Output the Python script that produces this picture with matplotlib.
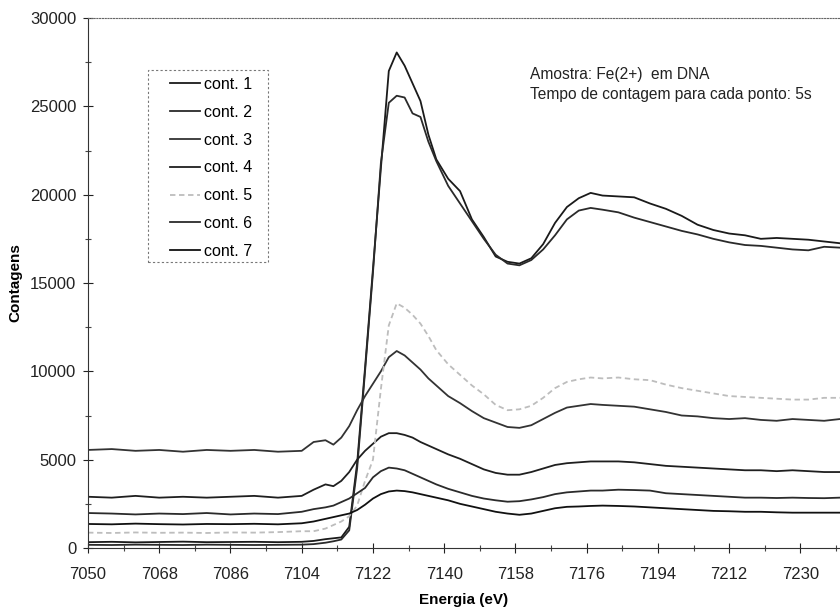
import matplotlib
matplotlib.use("Agg")
import matplotlib.pyplot as plt
from matplotlib.patches import Rectangle
from matplotlib.ticker import FixedLocator, MultipleLocator

plt.rcParams["font.family"] = ["Liberation Sans", "DejaVu Sans"]

# energia (eV)
energia = [7050, 7056, 7062, 7068, 7074, 7080, 7086, 7092, 7098, 7104,
           7107, 7110, 7112, 7114, 7116, 7118, 7120, 7122, 7124, 7126,
           7128, 7130, 7132, 7134, 7136, 7138, 7141, 7144, 7147, 7150,
           7153, 7156, 7159, 7162, 7165, 7168, 7171, 7174, 7177, 7180,
           7184, 7188, 7192, 7196, 7200, 7204, 7208, 7212, 7216, 7220,
           7224, 7228, 7232, 7236, 7240]

cont1 = [330, 350, 320, 340, 360, 330, 340, 350, 330, 350,
         400, 500, 550, 600, 1200, 4800, 10200, 15800, 21500, 27000,
         28050, 27300, 26300, 25300, 23400, 22000, 20900, 20200, 18600, 17600,
         16500, 16200, 16100, 16400, 17200, 18400, 19300, 19800, 20100, 19950,
         19900, 19850, 19500, 19200, 18800, 18300, 18000, 17800, 17700, 17500,
         17550, 17500, 17450, 17350, 17250]
cont2 = [180, 170, 190, 180, 170, 190, 180, 170, 180, 190,
         220, 300, 380, 480, 1000, 4500, 10000, 15600, 21800, 25200,
         25600, 25500, 24600, 24400, 23000, 21900, 20500, 19500, 18500, 17500,
         16600, 16100, 16000, 16300, 16900, 17700, 18600, 19100, 19250, 19150,
         19000, 18700, 18450, 18200, 17950, 17750, 17500, 17300, 17150, 17100,
         17000, 16900, 16850, 17050, 17000]
cont3 = [5550, 5600, 5500, 5550, 5450, 5550, 5500, 5550, 5450, 5500,
         6000, 6100, 5850, 6250, 6900, 7800, 8600, 9300, 10000, 10800,
         11150, 10900, 10500, 10100, 9600, 9200, 8600, 8200, 7750, 7350,
         7100, 6850, 6800, 6950, 7300, 7650, 7950, 8050, 8150, 8100,
         8050, 8000, 7850, 7700, 7500, 7450, 7350, 7300, 7350, 7250,
         7200, 7300, 7250, 7200, 7300]
cont4 = [2900, 2850, 2950, 2850, 2900, 2850, 2900, 2950, 2850, 2950,
         3300, 3600, 3500, 3800, 4300, 5000, 5500, 5900, 6300, 6500,
         6500, 6400, 6250, 6000, 5800, 5600, 5300, 5050, 4750, 4450,
         4250, 4150, 4150, 4300, 4500, 4700, 4800, 4850, 4900, 4900,
         4900, 4850, 4750, 4650, 4600, 4550, 4500, 4450, 4400, 4400,
         4350, 4400, 4350, 4300, 4300]
cont5 = [870, 850, 880, 860, 870, 850, 880, 870, 900, 950,
         950, 1100, 1300, 1500, 1800, 2400, 3800, 5000, 9000, 12600,
         13850, 13600, 13200, 12700, 12000, 11200, 10400, 9800, 9200, 8700,
         8100, 7800, 7850, 8050, 8500, 9050, 9400, 9550, 9650, 9600,
         9650, 9550, 9500, 9250, 9050, 8900, 8750, 8600, 8550, 8500,
         8450, 8400, 8400, 8500, 8500]
cont6 = [1980, 1950, 1900, 1950, 1920, 1980, 1900, 1950, 1920, 2050,
         2200, 2300, 2400, 2600, 2800, 3100, 3400, 4000, 4350, 4550,
         4500, 4400, 4200, 4000, 3800, 3600, 3350, 3150, 2950, 2800,
         2700, 2620, 2650, 2750, 2880, 3050, 3150, 3200, 3250, 3250,
         3300, 3280, 3250, 3100, 3050, 3000, 2950, 2900, 2850, 2850,
         2830, 2850, 2830, 2820, 2850]
cont7 = [1360, 1340, 1380, 1350, 1330, 1360, 1350, 1370, 1340, 1400,
         1500, 1650, 1750, 1850, 1950, 2150, 2450, 2800, 3050, 3200,
         3250, 3220, 3150, 3050, 2950, 2850, 2700, 2500, 2350, 2200,
         2050, 1950, 1880, 1950, 2100, 2250, 2330, 2350, 2380, 2400,
         2380, 2350, 2300, 2250, 2200, 2150, 2100, 2080, 2050, 2050,
         2020, 2000, 2000, 2000, 2000]

series = [cont1, cont2, cont3, cont4, cont5, cont6, cont7]
nomes = ["cont. 1", "cont. 2", "cont. 3", "cont. 4", "cont. 5", "cont. 6", "cont. 7"]
cores = ["#1a1a1a", "#2a2a2a", "#333333", "#1f1f1f", "#bdbdbd", "#2b2b2b", "#111111"]
estilos = ["-", "-", "-", "-", (0, (3, 2)), "-", "-"]
xticks = list(range(7050, 7241, 18))

W, H = 840, 615
fig = plt.figure(figsize=(8.4, 6.15), dpi=100)
ax = fig.add_axes([88 / W, 67 / H, 752 / W, 530 / H])

for y, nome, cor, ls in zip(series, nomes, cores, estilos):
    ax.plot(energia, y, color=cor, linestyle=ls, linewidth=1.3, label=nome)

ax.set_xlim(7050, 7240)
ax.set_ylim(0, 30000)
ax.xaxis.set_major_locator(FixedLocator(xticks))
ax.xaxis.set_minor_locator(FixedLocator([t + 9 for t in xticks]))
ax.yaxis.set_major_locator(MultipleLocator(5000))
ax.yaxis.set_minor_locator(MultipleLocator(2500))
ax.tick_params(which="major", direction="inout", length=7, width=0.8,
               labelsize=12, colors="#222222")
ax.tick_params(axis="x", which="major", pad=10)
ax.tick_params(axis="y", which="major", pad=5)
ax.tick_params(which="minor", direction="inout", length=4, width=0.8, colors="#444444")

ax.spines["right"].set_visible(False)
ax.spines["top"].set_linestyle((0, (1, 1.5)))
ax.spines["top"].set_color("#666666")
ax.spines["left"].set_linestyle((0, (1, 1)))
ax.spines["left"].set_color("#333333")
ax.spines["bottom"].set_linestyle((0, (1.5, 1)))
ax.spines["bottom"].set_color("#333333")

ax.set_xlabel("Energia (eV)", fontsize=11, fontweight="bold", labelpad=8)
ax.set_ylabel("Contagens", fontsize=11, fontweight="bold")
ax.yaxis.set_label_coords((22 - 88) / 752, 0.5)

# legenda sem moldura + caixa tracejada
leg = ax.legend(loc="upper left", bbox_to_anchor=(170 / W, 1 - 77 / H),
                bbox_transform=fig.transFigure, fontsize=11.5, frameon=False,
                borderpad=0, borderaxespad=0, labelspacing=0.8,
                handlelength=1.9, handletextpad=0.2)
fig.add_artist(Rectangle((148 / W, 1 - 262 / H), 120 / W, 192 / H,
                         transform=fig.transFigure, fill=False,
                         edgecolor="#777777", linewidth=0.8, linestyle=(0, (2, 2))))

fig.text(530 / W, 1 - 75 / H, "Amostra: Fe(2+)  em DNA", fontsize=11.2,
         va="center", ha="left", color="#222222")
fig.text(530 / W, 1 - 94 / H, "Tempo de contagem para cada ponto: 5s", fontsize=11.2,
         va="center", ha="left", color="#222222")

fig.savefig("out.png", dpi=100)
